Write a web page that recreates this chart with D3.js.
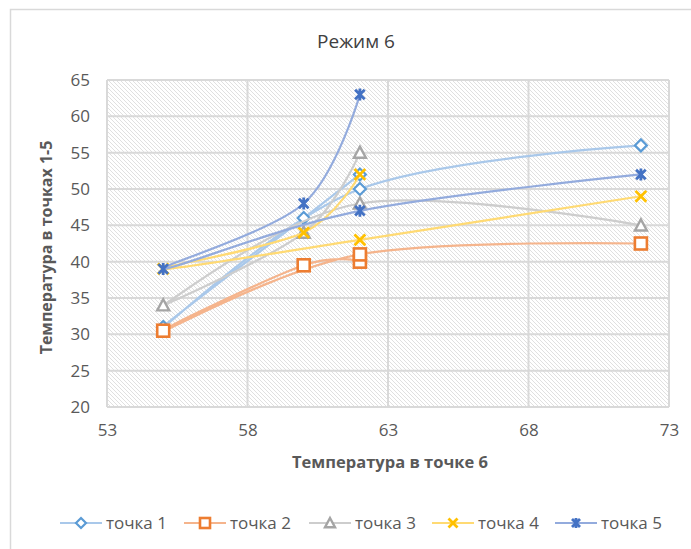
<!DOCTYPE html>
<html><head><meta charset="utf-8">
<script src="https://cdn.jsdelivr.net/npm/d3@7"></script>
<style>body{margin:0;background:#fff} svg{display:block}</style>
</head><body>
<svg id="chart" width="691" height="549"></svg>
<script>
// Measured points: temperature at point 6 (x) vs temperature at points 1-5 (y)
const xValues = [62, 60, 55, 62, 72];
const seriesNames = ["точка 1", "точка 2", "точка 3", "точка 4", "точка 5"];
const point1 = [52, 46, 31, 50, 56];
const point2 = [40, 39.5, 30.5, 41, 42.5];
const point3 = [55, 44, 34, 48, 45];
const point4 = [52, 44, 39, 43, 49];
const point5 = [63, 48, 39, 47, 52];
const xTicks = [53, 58, 63, 68, 73];
const yTicks = [20, 25, 30, 35, 40, 45, 50, 55, 60, 65];

const seriesValues = [point1, point2, point3, point4, point5];
const markerColors = ["#5B9BD5", "#ED7D31", "#A5A5A5", "#FFC000", "#4472C4"];
const lineColors = ["#A9C8EA", "#F5B48C", "#CDCDCD", "#FFDA73", "#93ABDD"];
const markerTypes = ["diamond", "square", "triangle", "x", "star"];

const svg = d3.select("#chart");
const font = "'Open Sans', 'Liberation Sans', sans-serif";

const plot = {left: 107, top: 80, right: 669, bottom: 407};
const x = d3.scaleLinear().domain([53, 73]).range([plot.left, plot.right]);
const y = d3.scaleLinear().domain([20, 65]).range([plot.bottom, plot.top]);

// chart area border
svg.append("rect").attr("x", 10.5).attr("y", 9.5).attr("width", 700).attr("height", 560)
  .attr("fill", "#fff").attr("stroke", "#D9D9D9").attr("stroke-width", 1.5);

// hatched plot background
const defs = svg.append("defs");
const pat = defs.append("pattern").attr("id", "hatch").attr("patternUnits", "userSpaceOnUse")
  .attr("width", 4).attr("height", 4);
pat.append("rect").attr("width", 4).attr("height", 4).attr("fill", "#fff");
pat.append("path").attr("d", "M-1,-1 L5,5 M-1,3 L1,5 M3,-1 L5,1")
  .attr("stroke", "#DDDDDD").attr("stroke-width", 0.9);
svg.append("rect").attr("x", plot.left).attr("y", plot.top)
  .attr("width", plot.right - plot.left).attr("height", plot.bottom - plot.top)
  .attr("fill", "url(#hatch)");

// gridlines
const grid = svg.append("g").attr("stroke", "#D9D9D9").attr("stroke-width", 2);
grid.selectAll(".gy").data(yTicks).join("line")
  .attr("x1", plot.left).attr("x2", plot.right)
  .attr("y1", d => y(d)).attr("y2", d => y(d));
grid.selectAll(".gx").data(xTicks).join("line")
  .attr("y1", plot.top).attr("y2", plot.bottom)
  .attr("x1", d => x(d)).attr("x2", d => x(d));

// axes (labels only)
const yAxis = d3.axisLeft(y).tickValues(yTicks).tickSize(0).tickPadding(0);
const gy = svg.append("g").attr("transform", `translate(${plot.left - 17},0)`).call(yAxis);
const xAxis = d3.axisBottom(x).tickValues(xTicks).tickSize(0).tickPadding(0);
const gx = svg.append("g").attr("transform", `translate(0,${plot.bottom + 17})`).call(xAxis);
[gx, gy].forEach(g => {
  g.select(".domain").remove();
  g.selectAll("text").attr("fill", "#595959").style("font-family", font).style("font-size", "17px");
});

// titles
svg.append("text").attr("x", 356).attr("y", 48).attr("text-anchor", "middle")
  .attr("fill", "#404040").style("font-family", font).style("font-size", "19px").text("Режим 6");
svg.append("text").attr("x", (plot.left + plot.right) / 2 + 2).attr("y", 468).attr("text-anchor", "middle")
  .attr("fill", "#595959").style("font-family", font).style("font-size", "16.5px").style("font-weight", "bold")
  .text("Температура в точке 6");
svg.append("text").attr("transform", `translate(52,${(plot.top + plot.bottom) / 2 + 4}) rotate(-90)`)
  .attr("text-anchor", "middle").attr("fill", "#595959").style("font-family", font)
  .style("font-size", "16px").style("font-weight", "bold").text("Температура в точках 1-5");

// marker drawing
function drawMarker(g, type, color, s) {
  const h = s / 2;
  if (type === "diamond") {
    g.append("path").attr("d", `M0,${-h}L${h},0L0,${h}L${-h},0Z`)
      .attr("fill", "#fff").attr("stroke", color).attr("stroke-width", 2.2);
  } else if (type === "square") {
    g.append("rect").attr("x", -h).attr("y", -h).attr("width", s).attr("height", s)
      .attr("fill", "#fff").attr("stroke", color).attr("stroke-width", 2.6);
  } else if (type === "triangle") {
    g.append("path").attr("d", `M0,${-h}L${h},${h * 0.85}L${-h},${h * 0.85}Z`)
      .attr("fill", "#fff").attr("stroke", color).attr("stroke-width", 2.4);
  } else if (type === "x") {
    const k = h * 0.9;
    g.append("path").attr("d", `M${-k},${-k}L${k},${k}M${-k},${k}L${k},${-k}`)
      .attr("fill", "none").attr("stroke", color).attr("stroke-width", 2.8);
  } else if (type === "star") {
    const k = h * 0.8;
    g.append("path").attr("d", `M${-k},${-k}L${k},${k}M${-k},${k}L${k},${-k}M0,${-h}L0,${h}`)
      .attr("fill", "none").attr("stroke", color).attr("stroke-width", 2.8);
  }
}

const line = d3.line().x(d => x(d[0])).y(d => y(d[1])).curve(d3.curveCatmullRom.alpha(0));

seriesValues.forEach((vals, i) => {
  const pts = vals.map((v, j) => [xValues[j], v]);
  const g = svg.append("g");
  g.append("path").attr("d", line(pts)).attr("fill", "none")
    .attr("stroke", lineColors[i]).attr("stroke-width", 2.2);
  pts.forEach(p => {
    const m = g.append("g").attr("transform", `translate(${x(p[0])},${y(p[1])})`);
    drawMarker(m, markerTypes[i], markerColors[i], 12);
  });
});

// legend
const legendMarkerX = [81, 205, 330, 453, 576];
const legendY = 523;
seriesNames.forEach((name, i) => {
  const g = svg.append("g").attr("transform", `translate(${legendMarkerX[i]},${legendY})`);
  g.append("line").attr("x1", -21).attr("x2", 21).attr("stroke", lineColors[i]).attr("stroke-width", 2.2);
  drawMarker(g, markerTypes[i], markerColors[i], 10);
  g.append("text").attr("x", 25).attr("dy", "0.35em").attr("fill", "#595959")
    .style("font-family", font).style("font-size", "17px").text(name);
});
</script>
</body></html>
